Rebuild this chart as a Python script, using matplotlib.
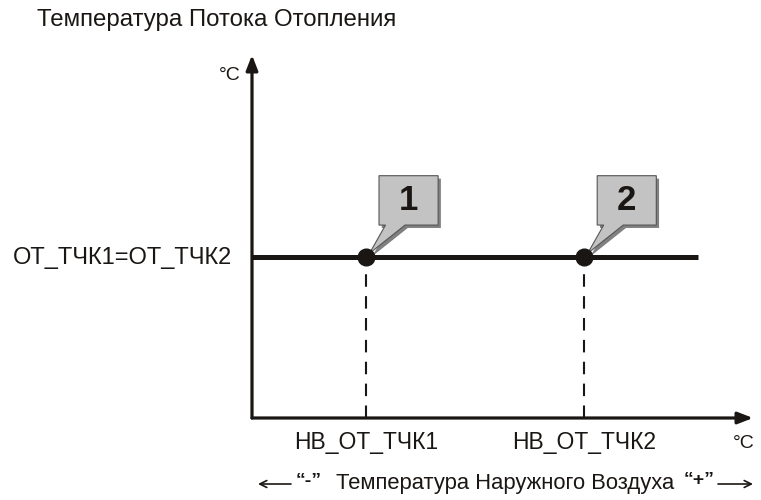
import matplotlib
matplotlib.use("Agg")
import matplotlib.pyplot as plt
from matplotlib.patches import Polygon

# данные (в процентах от длины осей)
point_labels = ["1", "2"]
point_x = [22.75, 66.3]         # НВ_ОТ_ТЧК1, НВ_ОТ_ТЧК2
flow_level = 44.35              # ОТ_ТЧК1 = ОТ_ТЧК2
line_x = [0, 89.0]
x_tick_labels = ["НВ_ОТ_ТЧК1", "НВ_ОТ_ТЧК2"]
y_tick_label = "ОТ_ТЧК1=ОТ_ТЧК2"

plt.rcParams["font.family"] = ["Liberation Sans", "DejaVu Sans"]
ink = "#1a1614"

W, H = 761, 500
fig = plt.figure(figsize=(W / 100, H / 100), dpi=100)

def fx(px):
    return px / W

def fy(py):
    return 1 - py / H

# оси: от x=252 до 753 px, от y=418 до 55 px
X0, X1, Y0, Y1 = 252, 753, 418, 55
ax = fig.add_axes([fx(X0), fy(Y0), (X1 - X0) / W, (Y0 - Y1) / H])
ax.set_xlim(0, 100)
ax.set_ylim(0, 100)
ax.axis("off")

# стрелки осей
for tip in [(1.0, 0), (0, 1.0)]:
    ax.annotate("", xy=tip, xytext=(0, 0), xycoords="axes fraction",
                arrowprops=dict(arrowstyle="-|>,head_length=0.9,head_width=0.35",
                                lw=2.3, color=ink, shrinkA=0, shrinkB=0))

# линия температуры потока
ax.plot(line_x, [flow_level, flow_level], color=ink, lw=3.6,
        solid_capstyle="butt", zorder=3)

# пунктирные линии вниз
for x in point_x:
    ax.plot([x, x], [0, flow_level], color=ink, lw=1.5,
            dashes=(6, 4.5), zorder=2)

# выноски
box_dx, box_w = 2.6, 11.8
box_dy, box_h = 8.8, 13.6
for x, lab in zip(point_x, point_labels):
    L = x + box_dx
    R = L + box_w
    B = flow_level + box_dy
    T = B + box_h
    verts = [(L, B), (L + 1.3, B), (x + 0.7, flow_level + 1.0),
             (L + 5.2, B), (R, B), (R, T), (L, T)]
    # тень
    sx, sy = 0.55, -0.8
    shadow = Polygon([(vx + sx, vy + sy) for vx, vy in verts], closed=True,
                     facecolor="#808080", edgecolor="none", zorder=4)
    ax.add_patch(shadow)
    box = Polygon(verts, closed=True, facecolor="#c3c3c3",
                  edgecolor="#555555", lw=0.8, zorder=5)
    ax.add_patch(box)
    ax.text(L + box_w / 2, B + box_h / 2, lab, ha="center", va="center",
            fontsize=25, fontweight="bold", color=ink, zorder=6)

# точки
ax.plot(point_x, [flow_level] * len(point_x), "o", color=ink,
        markersize=12, zorder=7)

# подписи
fig.text(fx(37), fy(20), "Температура Потока Отопления", fontsize=17.3,
         va="center", ha="left", color=ink)
fig.text(fx(241), fy(76), "°C", fontsize=14, va="center", ha="right",
         color=ink)
fig.text(fx(232), fy(258), y_tick_label, fontsize=17, va="center",
         ha="right", color=ink)
for x, lab in zip(point_x, x_tick_labels):
    px = X0 + x / 100 * (X1 - X0)
    fig.text(fx(px), fy(443), lab, fontsize=16.5, va="center", ha="center",
             color=ink)
fig.text(fx(733), fy(443), "°C", fontsize=14, va="center", ha="left",
         color=ink)

# нижняя подпись
fig.text(fx(505), fy(484), "Температура Наружного Воздуха", fontsize=15.8,
         va="center", ha="center", color=ink)
fig.text(fx(309), fy(481), "“-”", fontsize=14, fontweight="bold",
         va="center", ha="center", color=ink)
fig.text(fx(699), fy(481), "“+”", fontsize=14, fontweight="bold",
         va="center", ha="center", color=ink)
ax.annotate("", xy=(fx(258), fy(484)), xytext=(fx(291), fy(484)),
            xycoords="figure fraction",
            arrowprops=dict(arrowstyle="->,head_length=0.5,head_width=0.25",
                            lw=1.2, color=ink, shrinkA=0, shrinkB=0))
ax.annotate("", xy=(fx(753), fy(484)), xytext=(fx(718), fy(484)),
            xycoords="figure fraction",
            arrowprops=dict(arrowstyle="->,head_length=0.5,head_width=0.25",
                            lw=1.2, color=ink, shrinkA=0, shrinkB=0))

fig.savefig("out.png", dpi=100)
